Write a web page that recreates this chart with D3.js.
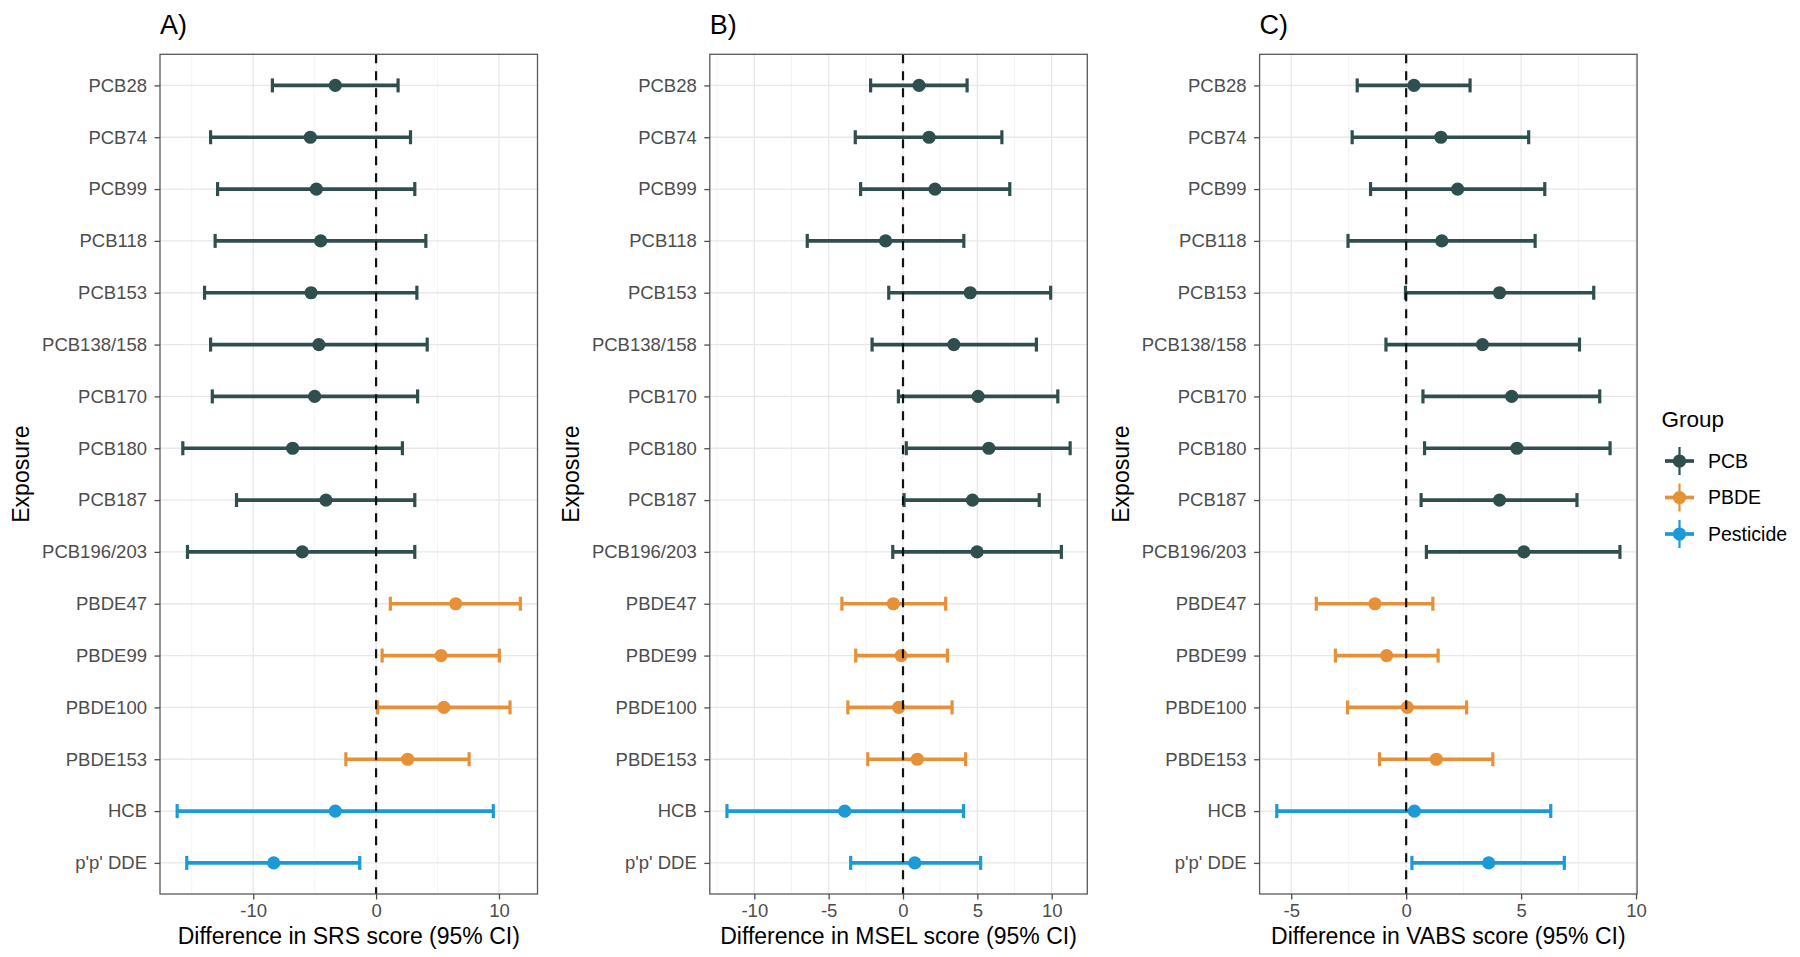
<!DOCTYPE html>
<html>
<head>
<meta charset="utf-8">
<script src="https://cdn.jsdelivr.net/npm/d3@7"></script>
<style>
  html, body { margin: 0; padding: 0; background: #fff; }
  svg { display: block; font-family: "Liberation Sans", Arial, Helvetica, sans-serif; }
</style>
</head>
<body>
<svg id="chart" width="1800" height="957"></svg>
<script>
// ---------------- DATA ----------------
const exposures = ["PCB28","PCB74","PCB99","PCB118","PCB153","PCB138/158","PCB170","PCB180","PCB187","PCB196/203",
                   "PBDE47","PBDE99","PBDE100","PBDE153","HCB","p'p' DDE"];
const groups = ["PCB","PCB","PCB","PCB","PCB","PCB","PCB","PCB","PCB","PCB",
                "PBDE","PBDE","PBDE","PBDE","Pesticide","Pesticide"];
const groupNames = ["PCB","PBDE","Pesticide"];
const groupColors = ["#2F4F4F","#E69138","#1B9AD6"];

const srsEst = [-3.32,-5.35,-4.86,-4.51,-5.29,-4.66,-5.00,-6.79,-4.08,-6.01, 6.48, 5.29, 5.52, 2.57,-3.32,-8.33];
const srsLo  = [-8.44,-13.47,-12.90,-13.10,-13.96,-13.47,-13.33,-15.73,-11.36,-15.35, 1.16, 0.49, 0.12,-2.46,-16.19,-15.41];
const srsHi  = [ 1.79, 2.80, 3.15, 4.05, 3.32, 4.16, 3.38, 2.14, 3.15, 3.15,11.74,10.03,10.90, 7.57, 9.54,-1.33];

const mselEst = [ 1.08, 1.75, 2.15,-1.17, 4.52, 3.42, 5.05, 5.77, 4.67, 4.98,-0.65,-0.12,-0.29, 0.96,-3.92, 0.79];
const mselLo  = [-2.18,-3.21,-2.85,-6.44,-0.96,-2.08,-0.31, 0.22, 0.07,-0.69,-4.11,-3.18,-3.71,-2.37,-11.84,-3.52];
const mselHi  = [ 4.31, 6.65, 7.18, 4.09, 9.93, 8.97,10.41,11.24, 9.16,10.65, 2.87, 2.99, 3.30, 4.21, 4.07, 5.22];

const vabsEst = [ 0.34, 1.51, 2.24, 1.55, 4.06, 3.32, 4.59, 4.82, 4.06, 5.12,-1.36,-0.85, 0.05, 1.31, 0.36, 3.59];
const vabsLo  = [-2.13,-2.35,-1.55,-2.53,-0.03,-0.88, 0.73, 0.80, 0.65, 0.88,-3.91,-3.08,-2.55,-1.16,-5.63, 0.25];
const vabsHi  = [ 2.78, 5.33, 6.03, 5.61, 8.16, 7.54, 8.42, 8.87, 7.43, 9.30, 1.16, 1.39, 2.63, 3.77, 6.29, 6.88];

const srsTicks  = [-10, 0, 10];
const srsGrid   = [-15, -10, -5, 0, 5, 10];
const mselTicks = [-10, -5, 0, 5, 10];
const mselGrid  = [-12.5, -10, -7.5, -5, -2.5, 0, 2.5, 5, 7.5, 10];
const vabsTicks = [-5, 0, 5, 10];
const vabsGrid  = [-5, -2.5, 0, 2.5, 5, 7.5, 10];

const panelTitles = ["A)", "B)", "C)"];
const xTitles = ["Difference in SRS score (95% CI)", "Difference in MSEL score (95% CI)", "Difference in VABS score (95% CI)"];
const yTitle = "Exposure";
const legendTitle = "Group";

// ---------------- LAYOUT ----------------
const svg = d3.select("#chart");
const panelLefts = [160, 709.8, 1259.6];
const panelW = 377.5;
const panelTop = 54.3, panelBottom = 894;
const colorScale = d3.scaleOrdinal().domain(groupNames).range(groupColors);
const FONT = "'Liberation Sans', Arial, sans-serif";

const panels = [
  {est: srsEst, lo: srsLo, hi: srsHi, ticks: srsTicks, grid: srsGrid},
  {est: mselEst, lo: mselLo, hi: mselHi, ticks: mselTicks, grid: mselGrid},
  {est: vabsEst, lo: vabsLo, hi: vabsHi, ticks: vabsTicks, grid: vabsGrid}
];

panels.forEach((p, pi) => {
  const x0 = panelLefts[pi], x1 = x0 + panelW;
  const mn = d3.min(p.lo), mx = d3.max(p.hi);
  const pad = (mx - mn) * 0.05;
  const x = d3.scaleLinear().domain([mn - pad, mx + pad]).range([x0, x1]);
  const y = d3.scalePoint().domain(exposures).range([panelTop, panelBottom]).padding(0.6);

  const g = svg.append("g");

  // gridlines
  const minorGrid = p.grid.filter(v => !p.ticks.includes(v));
  g.selectAll(".vminor").data(minorGrid).enter().append("line")
    .attr("x1", d => x(d)).attr("x2", d => x(d))
    .attr("y1", panelTop).attr("y2", panelBottom)
    .attr("stroke", "#f0f0f0").attr("stroke-width", 0.8);
  g.selectAll(".vmajor").data(p.ticks).enter().append("line")
    .attr("x1", d => x(d)).attr("x2", d => x(d))
    .attr("y1", panelTop).attr("y2", panelBottom)
    .attr("stroke", "#e8e8e8").attr("stroke-width", 1.3);
  g.selectAll(".hmajor").data(exposures).enter().append("line")
    .attr("x1", x0).attr("x2", x1)
    .attr("y1", d => y(d)).attr("y2", d => y(d))
    .attr("stroke", "#e8e8e8").attr("stroke-width", 1.3);

  const rows = exposures.map((e, i) => ({e, g: groups[i], est: p.est[i], lo: p.lo[i], hi: p.hi[i]}));

  // error bars
  const eb = g.selectAll(".eb").data(rows).enter().append("g");
  eb.append("line")
    .attr("x1", d => x(d.lo)).attr("x2", d => x(d.hi))
    .attr("y1", d => y(d.e)).attr("y2", d => y(d.e))
    .attr("stroke", d => colorScale(d.g)).attr("stroke-width", 3.7);
  eb.append("line")
    .attr("x1", d => x(d.lo)).attr("x2", d => x(d.lo))
    .attr("y1", d => y(d.e) - 7).attr("y2", d => y(d.e) + 7)
    .attr("stroke", d => colorScale(d.g)).attr("stroke-width", 3.2);
  eb.append("line")
    .attr("x1", d => x(d.hi)).attr("x2", d => x(d.hi))
    .attr("y1", d => y(d.e) - 7).attr("y2", d => y(d.e) + 7)
    .attr("stroke", d => colorScale(d.g)).attr("stroke-width", 3.2);
  eb.append("circle")
    .attr("cx", d => x(d.est)).attr("cy", d => y(d.e)).attr("r", 6.6)
    .attr("fill", d => colorScale(d.g));

  // zero line
  g.append("line")
    .attr("x1", x(0)).attr("x2", x(0))
    .attr("y1", panelTop).attr("y2", panelBottom)
    .attr("stroke", "#111").attr("stroke-width", 2.2)
    .attr("stroke-dasharray", "9,8");

  // panel border
  g.append("rect")
    .attr("x", x0).attr("y", panelTop).attr("width", panelW).attr("height", panelBottom - panelTop)
    .attr("fill", "none").attr("stroke", "#5a5a5a").attr("stroke-width", 1.3);

  // axes
  const xAxis = d3.axisBottom(x).tickValues(p.ticks).tickSize(5.5).tickPadding(4).tickFormat(d => String(d));
  const xa = g.append("g").attr("transform", `translate(0,${panelBottom})`).call(xAxis);
  xa.select(".domain").remove();
  xa.selectAll(".tick line").attr("stroke", "#4d4d4d").attr("stroke-width", 1.3);
  xa.selectAll(".tick text").attr("fill", "#4d4d4d").style("font-size", "18.5px").style("font-family", FONT);

  const yAxis = d3.axisLeft(y).tickSize(5.5).tickPadding(7.5);
  const ya = g.append("g").attr("transform", `translate(${x0},0)`).call(yAxis);
  ya.select(".domain").remove();
  ya.selectAll(".tick line").attr("stroke", "#4d4d4d").attr("stroke-width", 1.3);
  ya.selectAll(".tick text").attr("fill", "#4d4d4d").style("font-size", "18.5px").style("font-family", FONT);

  // titles
  g.append("text").attr("x", x0).attr("y", 34)
    .style("font-size", "27px").attr("fill", "#000").text(panelTitles[pi]);
  g.append("text").attr("x", (x0 + x1) / 2).attr("y", 944)
    .attr("text-anchor", "middle").style("font-size", "23px").attr("fill", "#000").text(xTitles[pi]);
  g.append("text")
    .attr("transform", `translate(${x0 - 131},${(panelTop + panelBottom) / 2}) rotate(-90)`)
    .attr("text-anchor", "middle").style("font-size", "23px").attr("fill", "#000").text(yTitle);
});

// ---------------- LEGEND ----------------
const lg = svg.append("g");
lg.append("text").attr("x", 1661.5).attr("y", 427).style("font-size", "22.5px").attr("fill", "#000").text(legendTitle);
const items = lg.selectAll(".li").data(groupNames).enter().append("g")
  .attr("transform", (d, i) => `translate(1679.5,${461 + i * 36.5})`);
items.append("line").attr("x1", 0).attr("x2", 0).attr("y1", -14).attr("y2", 14)
  .attr("stroke", d => colorScale(d)).attr("stroke-width", 2.2);
items.append("line").attr("x1", -14.5).attr("x2", 14.5).attr("y1", 0).attr("y2", 0)
  .attr("stroke", d => colorScale(d)).attr("stroke-width", 3.7);
items.append("circle").attr("r", 6.6).attr("fill", d => colorScale(d));
items.append("text").attr("x", 28.5).attr("y", 0).attr("dy", "0.35em")
  .style("font-size", "19.5px").attr("fill", "#000").text(d => d);
</script>
</body>
</html>
